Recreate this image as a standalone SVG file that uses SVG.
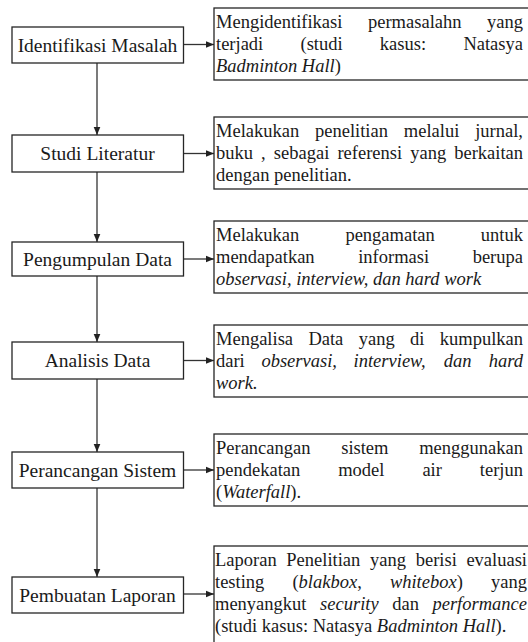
<svg xmlns="http://www.w3.org/2000/svg" width="528" height="642" viewBox="0 0 528 642">
<style>
.box{fill:#fff;stroke:#262626;stroke-width:1.3}
.con{fill:none;stroke:#333;stroke-width:1.3}
</style>
<defs>
<marker id="ah" markerUnits="userSpaceOnUse" markerWidth="9" markerHeight="8" refX="8.5" refY="4" orient="auto">
<path d="M0,0.5 L8.5,4 L0,7.5 z" fill="#222"/>
</marker>
</defs>
<rect width="528" height="642" fill="#fff"/>

<g id="connectors">
<line class="con" x1="97" y1="63" x2="97" y2="135" marker-end="url(#ah)"/>
<line class="con" x1="97" y1="172" x2="97" y2="242" marker-end="url(#ah)"/>
<line class="con" x1="97" y1="276" x2="97" y2="342" marker-end="url(#ah)"/>
<line class="con" x1="97" y1="379" x2="97" y2="452" marker-end="url(#ah)"/>
<line class="con" x1="97" y1="488" x2="97" y2="577" marker-end="url(#ah)"/>
<line class="con" x1="183.5" y1="44.5" x2="214" y2="44.5" marker-end="url(#ah)"/>
<line class="con" x1="183.5" y1="153.5" x2="214" y2="153.5" marker-end="url(#ah)"/>
<line class="con" x1="183.5" y1="259" x2="214" y2="259" marker-end="url(#ah)"/>
<line class="con" x1="183.5" y1="360.5" x2="214" y2="360.5" marker-end="url(#ah)"/>
<line class="con" x1="183.5" y1="470" x2="214" y2="470" marker-end="url(#ah)"/>
<line class="con" x1="183.5" y1="594" x2="214" y2="594" marker-end="url(#ah)"/>
</g>

<g font-family="Liberation Serif, serif" font-size="19.5" text-anchor="middle" fill="#1a1a1a">
<g id="n1">
<rect class="box" x="12" y="27" width="171.5" height="36"/>
<text x="97.5" y="51.5">Identifikasi Masalah</text>
</g>
<g id="n2">
<rect class="box" x="12" y="135" width="171.5" height="37"/>
<text x="97.5" y="160">Studi Literatur</text>
</g>
<g id="n3">
<rect class="box" x="12" y="242" width="171.5" height="34"/>
<text x="97.5" y="265.5">Pengumpulan Data</text>
</g>
<g id="n4">
<rect class="box" x="12" y="342" width="171.5" height="37"/>
<text x="97.5" y="367">Analisis Data</text>
</g>
<g id="n5">
<rect class="box" x="12" y="452" width="171.5" height="36"/>
<text x="97.5" y="476.5">Perancangan Sistem</text>
</g>
<g id="n6">
<rect class="box" x="12" y="577" width="171.5" height="36"/>
<text x="97.5" y="601.5">Pembuatan Laporan</text>
</g>
</g>

<g font-family="Liberation Serif, serif" font-size="18.5" fill="#1a1a1a">
<g id="d1">
<rect class="box" x="214" y="8" width="320" height="72"/>
<text y="28"><tspan x="216">Mengidentifikasi</tspan><tspan x="368">permasalahn</tspan></text>
<text text-anchor="end" x="523" y="28">yang</text>
<text y="50"><tspan x="216">terjadi</tspan><tspan x="300.5">(studi</tspan><tspan x="379.8">kasus:</tspan></text>
<text text-anchor="end" x="523" y="50">Natasya</text>
<text x="216" y="72"><tspan font-style="italic">Badminton Hall</tspan>)</text>
</g>

<g id="d2">
<rect class="box" x="214" y="117" width="320" height="72"/>
<text y="137"><tspan x="216">Melakukan</tspan><tspan x="315">penelitian</tspan><tspan x="403.8">melalui</tspan></text>
<text text-anchor="end" x="523" y="137">jurnal,</text>
<text y="159"><tspan x="216">buku</tspan><tspan x="261.1">,</tspan><tspan x="273.8">sebagai</tspan><tspan x="337.4">referensi</tspan><tspan x="410.2">yang</tspan></text>
<text text-anchor="end" x="523" y="159">berkaitan</text>
<text x="216" y="181">dengan penelitian.</text>
</g>

<g id="d3">
<rect class="box" x="214" y="221" width="320" height="72"/>
<text y="241"><tspan x="216">Melakukan</tspan><tspan x="345.4">pengamatan</tspan></text>
<text text-anchor="end" x="523" y="241">untuk</text>
<text y="263"><tspan x="216">mendapatkan</tspan><tspan x="358.2">informasi</tspan></text>
<text text-anchor="end" x="523" y="263">berupa</text>
<text font-style="italic" x="216" y="285">observasi, interview, dan hard work</text>
</g>

<g id="d4">
<rect class="box" x="214" y="325" width="320" height="72"/>
<text y="345"><tspan x="216">Mengalisa</tspan><tspan x="308.4">Data</tspan><tspan x="358.7">yang</tspan><tspan x="410">di</tspan></text>
<text text-anchor="end" x="523" y="345">kumpulkan</text>
<text y="367"><tspan x="216">dari</tspan><tspan font-style="italic" x="261.4">observasi,</tspan><tspan font-style="italic" x="353.6">interview,</tspan><tspan font-style="italic" x="443.7">dan</tspan></text>
<text font-style="italic" text-anchor="end" x="523" y="367">hard</text>
<text font-style="italic" x="216" y="389">work.</text>
</g>

<g id="d5">
<rect class="box" x="214" y="434" width="320" height="72"/>
<text y="454"><tspan x="216">Perancangan</tspan><tspan x="341.2">sistem</tspan></text>
<text text-anchor="end" x="523" y="454">menggunakan</text>
<text y="476"><tspan x="216">pendekatan</tspan><tspan x="338.2">model</tspan><tspan x="422.4">air</tspan></text>
<text text-anchor="end" x="523" y="476">terjun</text>
<text x="216" y="498">(<tspan font-style="italic">Waterfall</tspan>).</text>
</g>

<g id="d6">
<rect class="box" x="214" y="546" width="320" height="104"/>
<text y="566"><tspan x="215">Laporan</tspan><tspan x="286.3">Penelitian</tspan><tspan x="370">yang</tspan><tspan x="415.7">berisi</tspan></text>
<text text-anchor="end" x="527" y="566">evaluasi</text>
<text y="588"><tspan x="215">testing</tspan><tspan x="292.4">(<tspan font-style="italic">blakbox</tspan>,</tspan><tspan font-style="italic" x="389.9">whitebox</tspan>)</text>
<text text-anchor="end" x="527" y="588">yang</text>
<text y="610"><tspan x="215">menyangkut</tspan><tspan font-style="italic" x="320.1">security</tspan><tspan x="392.2">dan</tspan></text>
<text font-style="italic" text-anchor="end" x="527" y="610">performance</text>
<text x="215" y="632">(studi kasus: Natasya <tspan font-style="italic">Badminton Hall</tspan>).</text>
</g>
</g>
</svg>
